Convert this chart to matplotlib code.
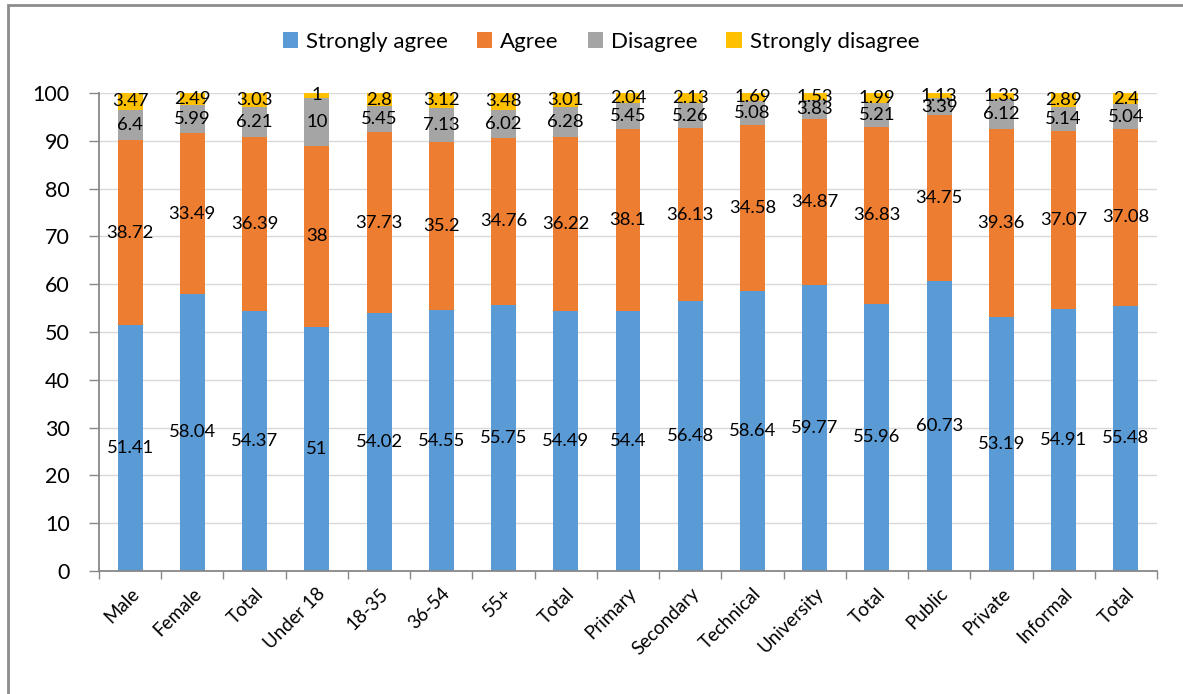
import matplotlib
matplotlib.use("Agg")
import matplotlib.pyplot as plt
import numpy as np
from matplotlib.patches import Rectangle
from matplotlib.ticker import FixedLocator, NullFormatter

plt.rcParams['font.family'] = ['Lato', 'DejaVu Sans']

categories = ["Male", "Female", "Total", "Under 18", "18-35", "36-54", "55+", "Total",
              "Primary", "Secondary", "Technical", "University", "Total",
              "Public", "Private", "Informal", "Total"]
series_names = ["Strongly agree", "Agree", "Disagree", "Strongly disagree"]
strongly_agree = [51.41, 58.04, 54.37, 51, 54.02, 54.55, 55.75, 54.49, 54.4, 56.48,
                  58.64, 59.77, 55.96, 60.73, 53.19, 54.91, 55.48]
agree = [38.72, 33.49, 36.39, 38, 37.73, 35.2, 34.76, 36.22, 38.1, 36.13,
         34.58, 34.87, 36.83, 34.75, 39.36, 37.07, 37.08]
disagree = [6.4, 5.99, 6.21, 10, 5.45, 7.13, 6.02, 6.28, 5.45, 5.26,
            5.08, 3.83, 5.21, 3.39, 6.12, 5.14, 5.04]
strongly_disagree = [3.47, 2.49, 3.03, 1, 2.8, 3.12, 3.48, 3.01, 2.04, 2.13,
                     1.69, 1.53, 1.99, 1.13, 1.33, 2.89, 2.4]
colors = ["#5B9BD5", "#ED7D31", "#A5A5A5", "#FFC000"]

fig = plt.figure(figsize=(11.83, 6.94), dpi=100)
ax = fig.add_axes([99/1183, 1-571/694, (1157-99)/1183, (571-93)/694])

x = np.arange(len(categories))
bottom = np.zeros(len(categories))
for name, vals, c in zip(series_names, [strongly_agree, agree, disagree, strongly_disagree], colors):
    vals = np.array(vals, dtype=float)
    bars = ax.bar(x, vals, 0.4, bottom=bottom, color=c, label=name, zorder=2)
    labels = [("%g" % v) for v in vals]
    ax.bar_label(bars, labels=labels, label_type='center', fontsize=13.3, color='black', zorder=3)
    bottom += vals

ax.set_xlim(-0.5, len(categories) - 0.5)
ax.set_ylim(0, 100)
ax.set_yticks(np.arange(0, 101, 10))
ax.tick_params(axis='y', labelsize=15.5, length=7, color='#888888', width=1, pad=14)
ax.yaxis.grid(True, color='#D9D9D9', linewidth=1, zorder=0)
ax.set_axisbelow(True)

ax.set_xticks(x)
ax.set_xticklabels(categories, rotation=45, ha='right', rotation_mode='anchor', fontsize=13.5)
ax.tick_params(axis='x', length=0, pad=10)
ax.xaxis.set_minor_locator(FixedLocator(np.arange(-0.5, len(categories), 1)))
ax.xaxis.set_minor_formatter(NullFormatter())
ax.tick_params(axis='x', which='minor', length=6, color='#888888', width=1)

for s in ['top', 'right']:
    ax.spines[s].set_visible(False)
for s in ['left', 'bottom']:
    ax.spines[s].set_color('#888888')
    ax.spines[s].set_linewidth(1.3)

fig.legend(loc='center', bbox_to_anchor=(601/1183, 1-42/694), ncol=4, frameon=False,
           fontsize=16, handlelength=0.7, handleheight=0.7, handletextpad=0.35, columnspacing=1.3)

fig.add_artist(Rectangle((8/1183, -0.1), 1.2, 1 - 5/694 + 0.1, transform=fig.transFigure,
                         fill=False, edgecolor='#8C8C8C', linewidth=2))

fig.savefig("out.png", dpi=100)
